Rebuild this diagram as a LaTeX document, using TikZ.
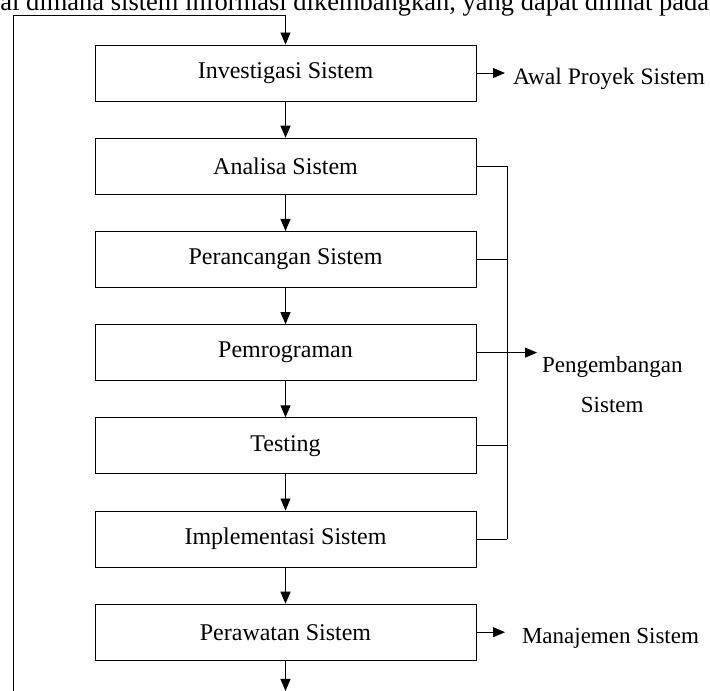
\documentclass[tikz,border=0pt]{standalone}
\usepackage{fontspec}
\setmainfont{Liberation Serif}
\usetikzlibrary{arrows.meta,positioning}

\tikzset{arr/.style={-{Triangle[length=12pt,width=10pt]}},
  box/.style={draw,minimum width=381pt,minimum height=56pt,inner sep=0pt,
    font=\fontsize{24}{28}\selectfont},
  side/.style={inner sep=0pt,font=\fontsize{23}{28}\selectfont}}

\begin{document}
\begin{tikzpicture}[x=1pt,y=1pt,line width=0.9pt,node distance=36.3pt]
\useasboundingbox (0,0) rectangle (710,691);
\clip (0,0) rectangle (710,691);
% line of text cut off above
\node[anchor=base west,inner sep=0pt,font=\fontsize{26.5}{30}\selectfont]
  (cuttext) at (0,680) {ai dimana sistem informasi dikembangkan, yang dapat dilihat pada};
% the steps
\node[box] (invest) at (285.5,618) {Investigasi Sistem};
\node[box,below=of invest] (analisa) {Analisa Sistem};
\node[box,below=of analisa] (rancang) {Perancangan Sistem};
\node[box,below=of rancang] (program) {Pemrograman};
\node[box,below=of program] (testing) {Testing};
\node[box,below=of testing] (implement) {Implementasi Sistem};
\node[box,below=of implement] (rawat) {Perawatan Sistem};
\foreach \a/\b in {invest/analisa,analisa/rancang,rancang/program,
  program/testing,testing/implement,implement/rawat}
  \draw[arr] (\a) -- (\b);
% labels on the right
\node[side,anchor=west,outer xsep=8pt,font=\fontsize{23.6}{28}\selectfont]
  (awal) at (505,612) {Awal Proyek Sistem};
\node[side,anchor=west,outer xsep=17pt] (manajemen) at (505,53) {Manajemen Sistem};
\node[side,anchor=west,outer xsep=5pt,align=center,
  font=\fontsize{23}{40}\selectfont] (kembang) at (537,306) {Pengembangan\\Sistem};
\draw[arr] (invest.east) -- (invest.east -| awal.west);
\draw[arr] (rawat.east) -- (rawat.east -| manajemen.west);
% bracket for the development steps
\coordinate (brk) at (507,0);
\foreach \n in {analisa,rancang,program,testing,implement}
  \draw (\n.east) -- (\n.east -| brk);
\draw (analisa.east -| brk) -- (implement.east -| brk);
\draw[arr] (program.east -| brk) -- (program.east -| kembang.west);
% loop back and way out
\coordinate (base) at (0,0);
\coordinate (loopbot) at (13,0);
\coordinate (looptop) at (13,676);
\draw[arr] (rawat.south) -- (rawat.south |- base);
\draw[arr] (loopbot) -- (looptop) -- (looptop -| invest.north) -- (invest.north);
\end{tikzpicture}
\end{document}
